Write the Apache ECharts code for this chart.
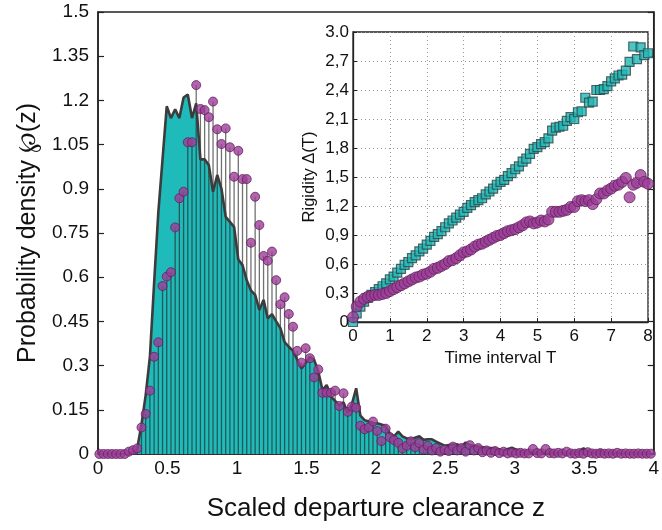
<!DOCTYPE html>
<html><head><meta charset="utf-8">
<script src="https://cdn.jsdelivr.net/npm/echarts@6/dist/echarts.min.js"></script>
<style>html,body{margin:0;padding:0;background:#fff}#c{width:662px;height:530px}</style>
</head><body><div id="c"></div>
<script>
// Histogram bins of scaled departure clearance z
const binStart = 0.01;
const binStep = 0.0303;
// Teal filled density (outline)
const densityArea = [
0,0,0,0,0,0,0,0,
0.004,0.02,0.1,0.2,0.33,0.58,0.82,1.0,
1.18,1.14,1.17,1.14,1.21,1.22,1.14,1.19,
1.0,1.0,0.98,0.89,0.947,0.90,0.805,0.788,
0.771,0.66,0.641,0.59,0.555,0.54,0.489,0.523,
0.46,0.475,0.45,0.427,0.38,0.364,0.35,0.32,
0.29,0.31,0.33,0.32,0.28,0.217,0.234,0.195,
0.18,0.165,0.175,0.14,0.17,0.223,0.13,0.115,
0.11,0.105,0.104,0.10,0.095,0.07,0.06,0.076,
0.06,0.053,0.05,0.055,0.06,0.048,0.05,0.05,
0.042,0.035,0.028,0.03,0.032,0.033,0.025,0.039,
0.03,0.028,0.025,0.023,0.021,0.02,0.019,0.016,
0.013,0.017,0.021,0.015,0.01,0.008,
0.006,0.005,0.006,0.005,0.004,0.005,0.004,0.004,0.005,0.004,
0.004,0.006,0.01,0.019,0.008,0.004,0.004,0.013,0.005,0.004,
0.003,0.003,0.003,0.003,0.003,0.003,0.003,0.003,0.003,0.003
];
// Purple stem points
const densityDots = [
0,0,0,0,0,0,0,
0.008,0.013,0.019,0.09,0.136,0.215,0.33,0.379,0.57,
0.602,0.617,0.769,0.868,0.89,1.058,1.058,1.252,
1.171,1.167,1.143,1.196,1.102,1.052,1.105,1.041,
0.941,1.029,0.933,0.933,0.717,0.873,0.777,0.672,
0.656,0.687,0.59,0.508,0.532,0.475,0.432,0.35,
0.31,0.359,0.325,0.26,0.287,0.208,0.208,0.208,
0.215,0.163,0.206,0.143,0.161,0.157,0.096,0.084,
0.09,0.11,0.078,0.044,0.086,0.057,0.047,0.038,
0.019,0.028,0.043,0.023,0.037,
0.015,0.028,0.012,0.02,0.008,0.015,0.01,0.025,0.012,0.02,
0.008,0.03,0.012,0.02,0.006,0.012,0.004,0.01,0.003,0.008,
0.002,0.005,0.002,0.004,0.002,0.002,0.017,0.003,0.002,0.017,
0.003,0.002,0.004,0.002,0.008,0.002,0.001,0.003,0.001,0.006,
0.002,0.001,0.003,0.001,0.002,0.001,0.004,0.001,0.002,0.001,
0.001,0.002,0.001,0.001,0.001
];
// Inset: time interval T and rigidity
const timeT = [0,0.1,0.2,0.3,0.4,0.5,0.6,0.7,0.8,0.9,1,1.1,1.2,1.3,1.4,1.5,1.6,1.7,1.8,1.9,2,2.1,2.2,2.3,2.4,2.5,2.6,2.7,2.8,2.9,3,3.1,3.2,3.3,3.4,3.5,3.6,3.7,3.8,3.9,4,4.1,4.2,4.3,4.4,4.5,4.6,4.7,4.8,4.9,5,5.1,5.2,5.3,5.4,5.5,5.6,5.7,5.8,5.9,6,6.1,6.2,6.3,6.4,6.5,6.6,6.7,6.8,6.9,7,7.1,7.2,7.3,7.4,7.5,7.6,7.7,7.8,7.9,8];
const rigiditySquares = [0,0.09,0.16,0.21,0.25,0.28,0.31,0.34,0.37,0.40,0.44,0.47,0.51,0.55,0.59,0.62,0.66,0.69,0.73,0.76,0.80,0.84,0.88,0.91,0.94,0.98,1.02,1.05,1.08,1.11,1.14,1.18,1.21,1.24,1.26,1.28,1.32,1.35,1.38,1.42,1.45,1.47,1.51,1.54,1.58,1.61,1.66,1.69,1.74,1.79,1.81,1.84,1.86,1.90,1.98,2.01,2.02,2.03,2.08,2.12,2.10,2.17,2.18,2.32,2.27,2.28,2.40,2.40,2.41,2.44,2.49,2.52,2.55,2.56,2.60,2.69,2.85,2.72,2.84,2.76,2.78];
const rigidityCircles = [0.05,0.16,0.21,0.24,0.26,0.27,0.28,0.28,0.29,0.30,0.32,0.34,0.36,0.38,0.40,0.42,0.44,0.46,0.47,0.49,0.50,0.52,0.55,0.56,0.58,0.60,0.63,0.64,0.66,0.69,0.72,0.73,0.75,0.78,0.80,0.81,0.83,0.85,0.87,0.89,0.90,0.92,0.94,0.95,0.96,0.98,1.00,1.03,1.04,1.02,1.03,1.05,1.04,1.06,1.14,1.14,1.14,1.15,1.16,1.19,1.19,1.25,1.26,1.25,1.26,1.22,1.27,1.33,1.33,1.36,1.38,1.41,1.42,1.45,1.49,1.29,1.42,1.44,1.52,1.45,1.43];
// Tick labels
const mainYTicks = ['0','0.15','0.3','0.45','0.6','0.75','0.9','1.05','1.2','1.35','1.5'];
const mainXTicks = ['0','0.5','1','1.5','2','2.5','3','3.5','4'];
const insetYTicks = ['0','0,3','0,6','0,9','1,2','1,5','1,8','2,1','2,4','2,7','3.0'];
const insetXTicks = ['0','1','2','3','4','5','6','7','8'];

const FONT = "'Liberation Sans', Arial, Helvetica, sans-serif";
const zBins = densityDots.map((_, i) => +(binStart + i * binStep).toFixed(4));
const areaData = zBins.map((z, i) => [z, densityArea[i]]);
const dotData = zBins.map((z, i) => [z, densityDots[i]]);
const sqData = timeT.map((t, i) => [t, rigiditySquares[i]]);
const ciData = timeT.map((t, i) => [t, rigidityCircles[i]]);

const TEAL = '#1fbaba';
const PURPLE = '#9b3d97';
const AX = '#222';

const chart = echarts.init(document.getElementById('c'), null, {renderer: 'canvas'});
chart.setOption({
  animation: false,
  backgroundColor: '#fff',
  grid: [
    {left: 98, right: 4, top: 12, bottom: 76, show: true, borderColor: AX, borderWidth: 1.5, backgroundColor: 'transparent'},
    {left: 353, top: 32, width: 295, height: 290, show: true, borderColor: AX, borderWidth: 1.3, backgroundColor: '#fff', z: 5}
  ],
  xAxis: [
    {gridIndex: 0, type: 'value', min: 0, max: 4, interval: 0.5,
     axisLine: {lineStyle: {color: AX, width: 1.5}},
     axisTick: {inside: true, length: 6, lineStyle: {color: AX, width: 1.2}},
     axisLabel: {fontSize: 19, color: '#111', fontFamily: FONT, margin: 5,
       formatter: v => mainXTicks[Math.round(v / 0.5)]},
     splitLine: {show: false},
     name: 'Scaled departure clearance z', nameLocation: 'middle', nameGap: 42,
     nameTextStyle: {fontSize: 26, color: '#111', fontFamily: FONT}},
    {gridIndex: 1, type: 'value', min: 0, max: 8, interval: 1, z: 6,
     axisLine: {lineStyle: {color: AX, width: 1.3}},
     axisTick: {inside: true, length: 4, lineStyle: {color: AX}},
     axisLabel: {fontSize: 17, color: '#111', fontFamily: FONT, margin: 6,
       formatter: v => insetXTicks[Math.round(v)]},
     splitLine: {show: true, lineStyle: {color: '#999', width: 1, type: [1, 3]}},
     name: 'Time interval T', nameLocation: 'middle', nameGap: 27,
     nameTextStyle: {fontSize: 17, color: '#111', fontFamily: FONT}},
  ],
  yAxis: [
    {gridIndex: 0, type: 'value', min: 0, max: 1.5, interval: 0.15,
     axisLine: {show: true, lineStyle: {color: AX, width: 1.5}},
     axisTick: {show: true, inside: true, length: 6, lineStyle: {color: AX, width: 1.2}},
     axisLabel: {fontSize: 19, color: '#111', fontFamily: FONT, margin: 9,
       formatter: v => mainYTicks[Math.round(v / 0.15)]},
     splitLine: {show: false},
     name: 'Probability density \u2118(z)', nameLocation: 'middle', nameGap: 57,
     nameTextStyle: {fontSize: 25, color: '#111', fontFamily: FONT}},
    {gridIndex: 1, type: 'value', min: 0, max: 3, interval: 0.3, z: 6,
     axisLine: {show: true, lineStyle: {color: AX, width: 1.3}},
     axisTick: {show: true, inside: true, length: 4, lineStyle: {color: AX}},
     axisLabel: {fontSize: 17, color: '#111', fontFamily: FONT, margin: 4,
       formatter: v => insetYTicks[Math.round(v / 0.3)]},
     splitLine: {show: true, lineStyle: {color: '#999', width: 1, type: [1, 3]}},
     name: 'Rigidity \u0394(T)', nameLocation: 'middle', nameGap: 35,
     nameTextStyle: {fontSize: 16.5, color: '#111', fontFamily: FONT}},
    {gridIndex: 0, type: 'value', min: 0, max: 1.5, interval: 0.15, position: 'right',
     axisLine: {show: true, lineStyle: {color: AX, width: 1.5}},
     axisTick: {show: true, inside: true, length: 6, lineStyle: {color: AX, width: 1.2}},
     axisLabel: {show: false}, splitLine: {show: false}}
  ],
  series: [
    {type: 'line', xAxisIndex: 0, yAxisIndex: 0, data: areaData, symbol: 'none', z: 2,
     lineStyle: {opacity: 0, width: 0}, areaStyle: {color: TEAL, opacity: 1}, silent: true},
    {type: 'custom', xAxisIndex: 0, yAxisIndex: 0, data: dotData, z: 3, silent: true,
     encode: {x: 0, y: 1},
     renderItem: (params, api) => {
       const x = api.value(0), y = api.value(1);
       const p0 = api.coord([x, 0]), p1 = api.coord([x, y]);
       return {type: 'line', shape: {x1: p0[0], y1: p0[1], x2: p1[0], y2: p1[1]},
               style: {stroke: 'rgba(40,40,40,0.66)', lineWidth: 1.3}};
     }},
    {type: 'line', xAxisIndex: 0, yAxisIndex: 0, data: areaData, symbol: 'none', z: 4,
     lineStyle: {color: '#3c3c3c', width: 2.6}, silent: true},
    {type: 'scatter', xAxisIndex: 0, yAxisIndex: 0, data: dotData, z: 5, symbol: 'circle', symbolSize: 9,
     itemStyle: {color: PURPLE, borderColor: '#65205f', borderWidth: 1}, silent: true},
    {type: 'scatter', xAxisIndex: 1, yAxisIndex: 1, data: sqData, z: 7, symbol: 'rect', symbolSize: 9,
     itemStyle: {color: '#22b6b6', borderColor: '#2a4646', borderWidth: 1.2}, silent: true},
    {type: 'scatter', xAxisIndex: 1, yAxisIndex: 1, data: ciData, z: 8, symbol: 'circle', symbolSize: 11,
     itemStyle: {color: PURPLE, borderColor: '#65205f', borderWidth: 1}, silent: true}
  ]
});
</script>
</body></html>
